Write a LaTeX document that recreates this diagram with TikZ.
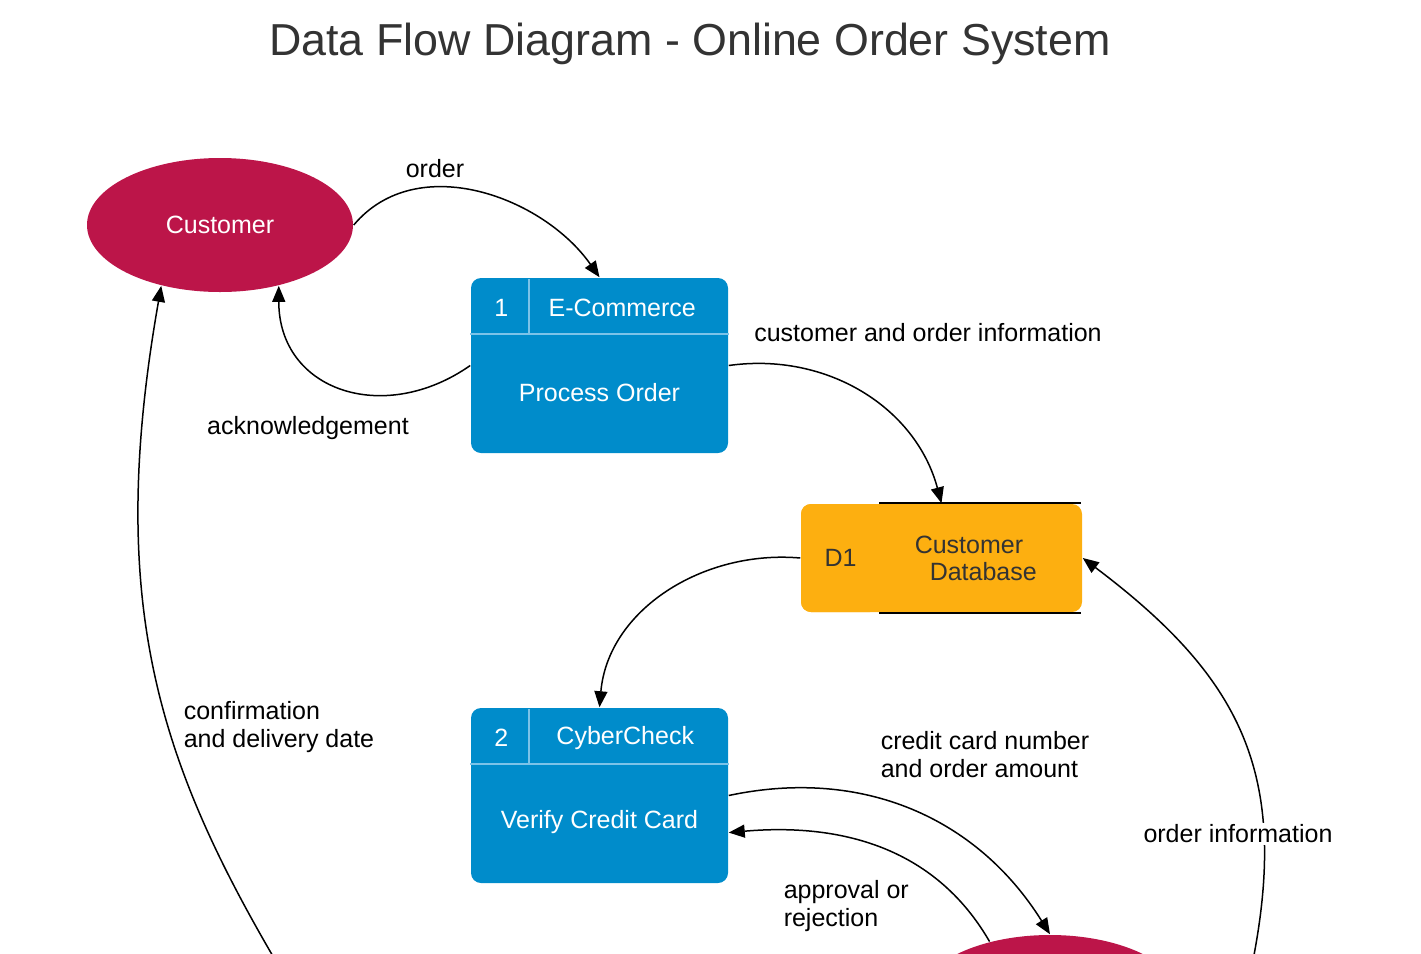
\documentclass[tikz,border=0pt]{standalone}
\usepackage{fontspec}
\setmainfont{Liberation Sans}
\usetikzlibrary{positioning, arrows.meta, shapes.geometric, calc}
\definecolor{dfdred}{HTML}{BC1549}
\definecolor{dfdblue}{HTML}{008CCB}
\definecolor{dfdorange}{HTML}{FDAF10}
\definecolor{dfdsep}{HTML}{7CC3E8}
\definecolor{dfdtext}{HTML}{333333}

\begin{document}
\begin{tikzpicture}[
        x=0.5pt, y=0.5pt,
        % ----- global styles -----
        ->, >={Triangle[length=8pt,width=6.5pt]}, line width=0.75pt,
        every node/.style={font=\fontsize{12.5}{14}\selectfont},
        % external entity
        entity/.style={ellipse, fill=dfdred, minimum width=133pt, minimum height=67pt, text=white, inner sep=0pt},
        % process box
        proc/.style={rectangle, rounded corners=5pt, fill=dfdblue, minimum width=128.5pt, minimum height=87.5pt},
        ptext/.style={text=white, inner sep=0pt},
        sepline/.style={-, draw=dfdsep, line width=1pt},
        % data store
        store/.style={rectangle, rounded corners=5pt, fill=dfdorange, minimum width=140.5pt, minimum height=54pt, text=dfdtext},
        storeline/.style={-, draw=black, line width=1pt},
        flow/.style={align=left, inner sep=0pt}
    ]
    \useasboundingbox (0,0) rectangle (1421,-954);
    \clip (0,0) rectangle (1421,-954);

    \node[font=\fontsize{22.4}{27}\selectfont, text=dfdtext] (title) at (690,-44) {Data Flow Diagram - Online Order System};

    % ----- entities -----
    \node[entity] (cust) at (220,-225) {Customer};
    \node[entity] (ent2) at (1050,-1002) {};
    \coordinate (srcL) at (290,-985);
    \coordinate (srcR) at (1250,-975);

    % ----- process 1 -----
    \node[proc] (p1) at (599.5,-365.5) {};
    \draw[sepline] ([yshift=-28.5pt]p1.north west) -- ([yshift=-28.5pt]p1.north east);
    \draw[sepline] ([xshift=29.5pt,yshift=-1pt]p1.north west) -- ([xshift=29.5pt,yshift=-28.5pt]p1.north west);
    \node[ptext] (p1id) at ([xshift=15.5pt,yshift=-15.5pt]p1.north west) {1};
    \node[ptext] (p1tool) at ([xshift=76pt,yshift=-15.5pt]p1.north west) {E-Commerce};
    \node[ptext] (p1name) at ([yshift=-13.75pt]p1.center) {Process Order};

    % ----- process 2 -----
    \node[proc] (p2) at (599.5,-795.5) {};
    \draw[sepline] ([yshift=-28.5pt]p2.north west) -- ([yshift=-28.5pt]p2.north east);
    \draw[sepline] ([xshift=29.5pt,yshift=-1pt]p2.north west) -- ([xshift=29.5pt,yshift=-28.5pt]p2.north west);
    \node[ptext] (p2id) at ([xshift=15.5pt,yshift=-15.5pt]p2.north west) {2};
    \node[ptext] (p2tool) at ([xshift=77.5pt,yshift=-15.5pt]p2.north west) {CyberCheck};
    \node[ptext] (p2name) at ([yshift=-13.25pt]p2.center) {Verify Credit Card};

    % ----- data store -----
    \node[store] (d1) at (941.5,-558) {};
    \node[store, minimum width=39.5pt, anchor=west] (d1id) at (d1.west) {D1};
    \draw[storeline] ([xshift=39.5pt]d1.north west) -- ([xshift=-1pt]d1.north east);
    \draw[storeline] ([xshift=39.5pt]d1.south west) -- ([xshift=-1pt]d1.south east);
    \node[text=dfdtext, align=left, anchor=west, inner sep=0pt, font=\fontsize{12.5}{13.5}\selectfont] (d1name) at (914,-558) {Customer\\\hspace*{7.5pt}Database};

    % ----- flows -----
    \path
    (cust.east) edge[out=50, in=125] (p1.north)
    (p1.west) edge[out=215, in=-90, looseness=1.3] (cust.-46)
    (p1.east) edge[out=8, in=105] (d1.north)
    (d1id.west) edge[out=175, in=85] (p2.north)
    (p2.east) edge[out=12, in=122] (ent2.north)
    (ent2.135) edge[out=120, in=5] (p2.-16)
    (srcR) edge[out=78, in=-37, looseness=1.15] (d1.east)
    (srcL) edge[out=121, in=-100, out distance=125pt, in distance=165pt] (cust.-134);

    % ----- flow labels -----
    \node[flow] (lorder) at (435,-169) {order};
    \node[flow] (lack) at (308,-428) {acknowledgement};
    \node[flow] (lcoi) at (928,-333) {customer and order information};
    \node[flow, anchor=west] (lcard) at (880,-755) {credit card number\\and order amount};
    \node[flow, anchor=west] (lappr) at (783,-906) {approval or\\rejection};
    \node[flow, fill=white, inner sep=1pt] (loi) at (1238,-834) {order information};
    \node[flow, anchor=west] (lconf) at (183,-727) {confirmation\\and delivery date};
\end{tikzpicture}
\end{document}
